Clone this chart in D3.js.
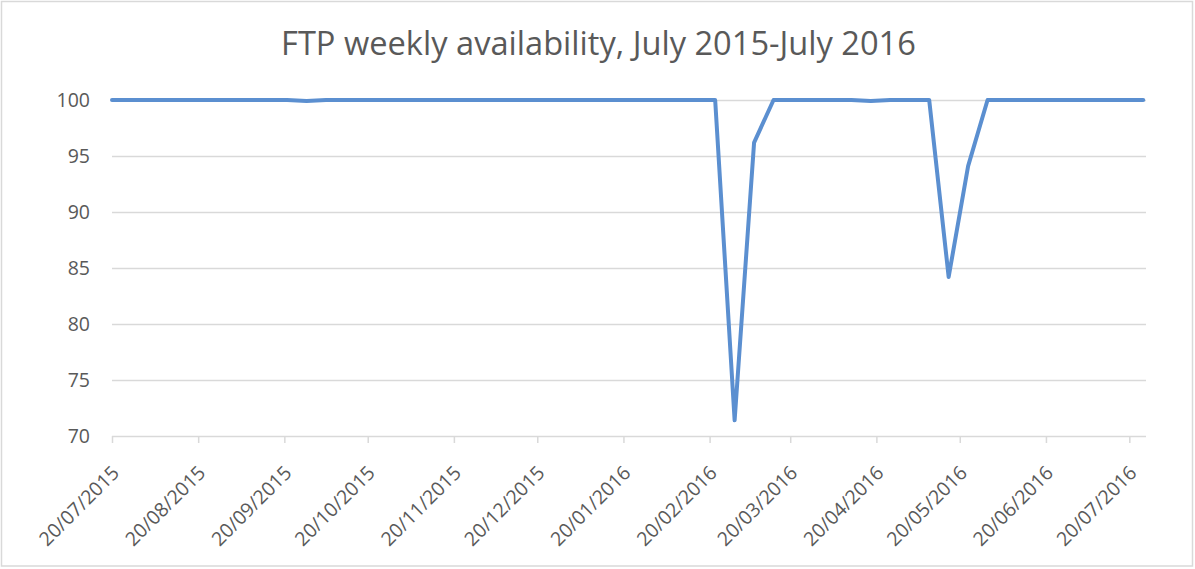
<!DOCTYPE html>
<html>
<head>
<meta charset="utf-8">
<script src="https://cdn.jsdelivr.net/npm/d3@7"></script>
<style>
  html, body { margin: 0; padding: 0; background: #fff; }
  svg { display: block; }
  text { font-family: "Open Sans", "Noto Sans", sans-serif; fill: #595959; }
</style>
</head>
<body>
<svg id="chart" width="1195" height="569"></svg>
<script>
const title = "FTP weekly availability, July 2015-July 2016";

const weeks = [
  "2015-07-20","2015-07-27","2015-08-03","2015-08-10","2015-08-17","2015-08-24","2015-08-31",
  "2015-09-07","2015-09-14","2015-09-21","2015-09-28","2015-10-05","2015-10-12","2015-10-19",
  "2015-10-26","2015-11-02","2015-11-09","2015-11-16","2015-11-23","2015-11-30","2015-12-07",
  "2015-12-14","2015-12-21","2015-12-28","2016-01-04","2016-01-11","2016-01-18","2016-01-25",
  "2016-02-01","2016-02-08","2016-02-15","2016-02-22","2016-02-29","2016-03-07","2016-03-14",
  "2016-03-21","2016-03-28","2016-04-04","2016-04-11","2016-04-18","2016-04-25","2016-05-02",
  "2016-05-09","2016-05-16","2016-05-23","2016-05-30","2016-06-06","2016-06-13","2016-06-20",
  "2016-06-27","2016-07-04","2016-07-11","2016-07-18","2016-07-25"
];

const availability = [
  100, 100, 100, 100, 100, 100, 100,
  100, 100, 100, 99.9, 100, 100, 100,
  100, 100, 100, 100, 100, 100, 100,
  100, 100, 100, 100, 100, 100, 100,
  100, 100, 100, 100, 71.4, 96.2, 100,
  100, 100, 100, 100, 99.9, 100, 100,
  100, 84.2, 94.1, 100, 100, 100, 100,
  100, 100, 100, 100, 100
];

const xTickDates = [
  "2015-07-20","2015-08-20","2015-09-20","2015-10-20","2015-11-20","2015-12-20",
  "2016-01-20","2016-02-20","2016-03-20","2016-04-20","2016-05-20","2016-06-20","2016-07-20"
];

const yTicks = [70, 75, 80, 85, 90, 95, 100];

const axisStart = "2015-07-20";
const axisEnd = "2016-07-26";

// ---- drawing ----
const parse = d3.utcParse("%Y-%m-%d");
const fmt = d3.utcFormat("%d/%m/%Y");
const svg = d3.select("#chart");

const plot = { left: 112, right: 1146, top: 100, bottom: 436 };

const x = d3.scaleUtc()
  .domain([parse(axisStart), parse(axisEnd)])
  .range([plot.left, plot.right]);

const y = d3.scaleLinear()
  .domain([70, 100])
  .range([plot.bottom, plot.top]);

// outer border
svg.append("rect")
  .attr("x", 1.5).attr("y", 1.5)
  .attr("width", 1191).attr("height", 564.5)
  .attr("fill", "#fff")
  .attr("stroke", "#d9d9d9")
  .attr("stroke-width", 1.5);

// title
const t = svg.append("text")
  .attr("x", 598.5).attr("y", 55)
  .attr("text-anchor", "middle")
  .style("font-size", "26px")
  .text(title);
const tw = t.node().getComputedTextLength();
t.style("font-size", (26 * 635 / tw).toFixed(2) + "px");

// gridlines
svg.append("g")
  .selectAll("line")
  .data(yTicks.filter(v => v !== 70))
  .join("line")
  .attr("x1", plot.left).attr("x2", plot.right)
  .attr("y1", d => Math.round(y(d)) + 0.5)
  .attr("y2", d => Math.round(y(d)) + 0.5)
  .attr("stroke", "#d9d9d9")
  .attr("stroke-width", 1.5);

// y axis labels
const yAxis = d3.axisLeft(y).tickValues(yTicks).tickSize(0).tickPadding(22);
const gy = svg.append("g").attr("transform", `translate(${plot.left},0)`).call(yAxis);
gy.select(".domain").remove();
gy.selectAll("text")
  .style("font-size", "19.5px")
  .style("font-family", "'Open Sans', sans-serif")
  .attr("fill", "#595959");

// x axis
const xAxis = d3.axisBottom(x)
  .tickValues(xTickDates.map(parse))
  .tickSize(7)
  .tickFormat(fmt);
const gx = svg.append("g")
  .attr("transform", `translate(0,${plot.bottom})`)
  .call(xAxis);
gx.select(".domain")
  .attr("d", `M${plot.left},0.5H${plot.right}`)
  .attr("stroke", "#d9d9d9").attr("stroke-width", 1.5);
gx.selectAll(".tick line").attr("stroke", "#d9d9d9").attr("stroke-width", 1.5);
gx.selectAll(".tick text")
  .attr("y", 0).attr("dy", 0)
  .attr("text-anchor", "end")
  .attr("transform", "translate(8,38) rotate(-45)")
  .style("font-size", "19.5px")
  .style("font-family", "'Open Sans', sans-serif")
  .attr("fill", "#595959");

// line
const data = weeks.map((d, i) => ({ date: parse(d), value: availability[i] }));
const line = d3.line()
  .x(d => x(d.date))
  .y(d => y(d.value));

svg.append("path")
  .datum(data)
  .attr("d", line)
  .attr("fill", "none")
  .attr("stroke", "#5b8fd0")
  .attr("stroke-width", 4)
  .attr("stroke-linejoin", "round")
  .attr("stroke-linecap", "round");
</script>
</body>
</html>
